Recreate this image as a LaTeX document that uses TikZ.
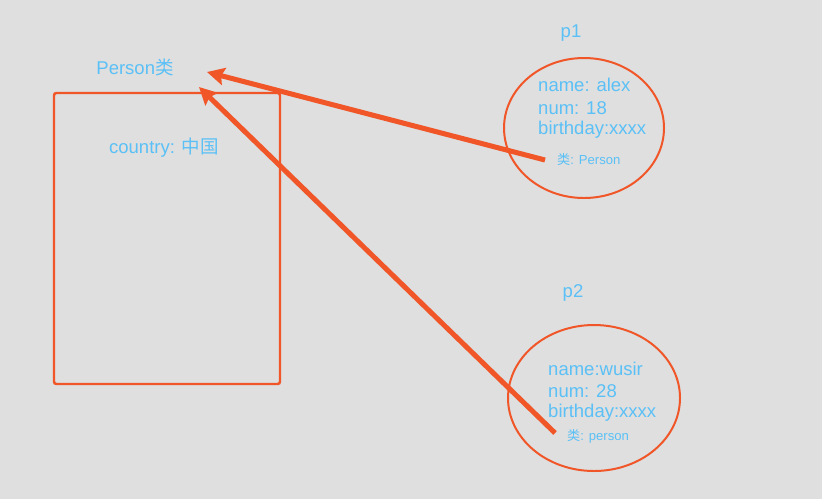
\documentclass[tikz,border=0pt]{standalone}
\usepackage{fontspec}
\setmainfont{Liberation Sans}
\newfontfamily\cjk{Noto Sans CJK SC}
\usetikzlibrary{arrows.meta,shapes.geometric}
\definecolor{paperGrey}{RGB}{223,223,223}
\definecolor{lineRed}{RGB}{240,86,40}
\definecolor{textBlue}{RGB}{90,192,246}

\begin{document}
\begin{tikzpicture}[x=1cm,y=1cm,
  lbl/.style={text=textBlue,inner sep=0pt,font=\fontsize{15.8}{18}\selectfont},
  attr/.style={lbl,anchor=west},
  tag/.style={text=textBlue,inner sep=0pt,anchor=west,font=\fontsize{11.2}{13}\selectfont},
  obj/.style={ellipse,draw=lineRed,line width=1.7pt,inner sep=0pt},
  ref/.style={draw=lineRed,line width=4.3pt,-{Stealth[length=0.52cm,width=0.52cm,inset=0.08cm]}}]
\path[use as bounding box,fill=paperGrey] (0,0) rectangle (24.66,-14.97);

% class box
\node[draw=lineRed,line width=2.1pt,rounded corners=2pt,minimum width=6.78cm,minimum height=8.73cm,inner sep=0pt] (box) at (5.01,-7.155) {};
\node[lbl] (cls) at (4.05,-2.01) {Person{\cjk 类}};
\node[lbl] (country) at (4.92,-4.44) {country: {\cjk 中国}};
\coordinate (clsA) at (6.21,-2.16);
\coordinate (clsB) at (5.97,-2.61);

% object p1
\node[lbl] (p1) at (17.13,-0.99) {p1};
\node[obj,minimum width=4.8cm,minimum height=4.2cm] (o1) at (17.52,-3.84) {};
\node[attr] (n1) at (16.14,-2.55) {name: alex};
\node[attr] (m1) at (16.14,-3.24) {num: 18};
\node[attr] (b1) at (16.14,-3.90) {birthday:xxxx};
\node[tag] (t1) at (16.71,-4.80) {{\cjk 类}: Person};
\coordinate (tailA) at (16.35,-4.80);

% object p2
\node[lbl] (p2) at (17.19,-8.79) {p2};
\node[obj,minimum width=5.16cm,minimum height=4.38cm] (o2) at (17.82,-11.94) {};
\node[attr] (n2) at (16.44,-11.07) {name:wusir};
\node[attr] (m2) at (16.44,-11.73) {num: 28};
\node[attr] (b2) at (16.44,-12.39) {birthday:xxxx};
\node[tag] (t2) at (17.01,-13.08) {{\cjk 类}: person};
\coordinate (tailB) at (16.65,-12.99);

% class pointers
\draw[ref] (tailA) -- (clsA);
\draw[ref] (tailB) -- (clsB);
\end{tikzpicture}
\end{document}
